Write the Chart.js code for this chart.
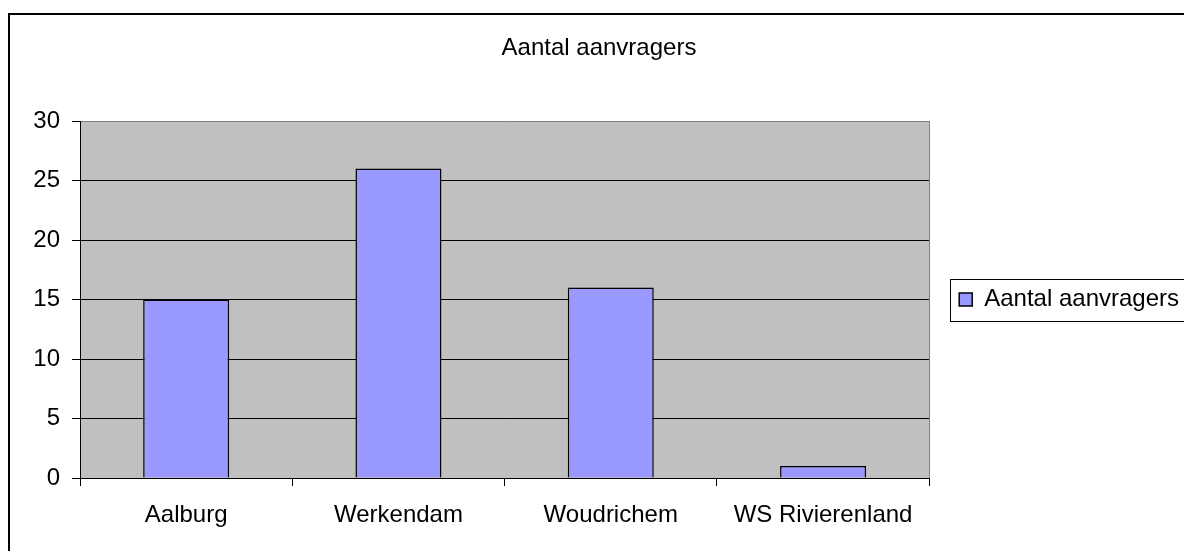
<!DOCTYPE html>
<html>
<head>
<meta charset="utf-8">
<title>Aantal aanvragers</title>
<script src="https://cdn.jsdelivr.net/npm/chart.js@4/dist/chart.umd.min.js"></script>
<style>
    html, body { margin: 0; padding: 0; background: #fff; }
    #wrap { width: 1184px; height: 551px; }
</style>
</head>
<body>
<div id="wrap"><canvas id="aanvragersChart" width="1184" height="551"></canvas></div>
<script>
// Chart data
const categories = ['Aalburg', 'Werkendam', 'Woudrichem', 'WS Rivierenland'];
const aanvragers = [15, 26, 16, 1];
const seriesLabel = 'Aantal aanvragers';
const chartTitle = 'Aantal aanvragers';
const yMin = 0;
const yMax = 30;
const yStep = 5;

Chart.defaults.font.family = '"Liberation Sans", Arial, sans-serif';
Chart.defaults.font.size = 24;
Chart.defaults.color = '#000';

/**
 * Draws the Excel-like chart frame, grey plot area and legend outline
 */
const excelFrame = {
    id: 'excelFrame',
    beforeDraw(chart) {
        const { ctx, chartArea: a } = chart;
        ctx.save();
        ctx.fillStyle = '#fff';
        ctx.fillRect(0, 0, chart.width, chart.height);
        // outer frame (runs off the right and bottom edge)
        ctx.fillStyle = '#000';
        ctx.fillRect(8, 13, 2, chart.height);
        ctx.fillRect(8, 13, chart.width, 2);
        // plot area
        ctx.fillStyle = '#c0c0c0';
        ctx.fillRect(a.left, a.top, a.right - a.left, a.bottom - a.top);
        ctx.restore();
    },
    beforeDatasetsDraw(chart) {
        const { ctx, chartArea: a } = chart;
        ctx.save();
        ctx.strokeStyle = '#808080';
        ctx.lineWidth = 1;
        ctx.beginPath();
        const x = Math.round(a.right) + 0.5;
        ctx.moveTo(x, a.top);
        ctx.lineTo(x, a.bottom);
        ctx.stroke();
        ctx.restore();
    },
    afterDraw(chart) {
        const hb = chart.legend && chart.legend.legendHitBoxes[0];
        if (!hb) return;
        const { ctx } = chart;
        ctx.save();
        ctx.strokeStyle = '#000';
        ctx.lineWidth = 1;
        ctx.strokeRect(Math.round(hb.left) - 8.5, Math.round(hb.top) - 8.5, 300, 42);
        ctx.restore();
    }
};

const ctx = document.getElementById('aanvragersChart').getContext('2d');
new Chart(ctx, {
    type: 'bar',
    data: {
        labels: categories,
        datasets: [{
            label: seriesLabel,
            data: aanvragers,
            backgroundColor: '#9999ff',
            borderColor: '#000',
            borderWidth: 1.5,
            barPercentage: 0.405,
            categoryPercentage: 1
        }]
    },
    options: {
        responsive: false,
        animation: false,
        layout: {
            padding: { left: 9, right: -5, top: 0, bottom: 0 }
        },
        plugins: {
            title: {
                display: true,
                text: chartTitle,
                color: '#000',
                font: { size: 24, weight: 'normal' },
                padding: { top: 33.6, bottom: 58.6 }
            },
            legend: {
                position: 'right',
                fullSize: false,
                align: 'center',
                labels: {
                    boxWidth: 13,
                    boxHeight: 13,
                    padding: 30,
                    color: '#000',
                    font: { size: 24 }
                }
            },
            tooltip: { enabled: false }
        },
        scales: {
            x: {
                afterFit: (scale) => { scale.height = 73; },
                grid: {
                    offset: true,
                    drawOnChartArea: false,
                    tickLength: 8,
                    color: '#000'
                },
                border: { color: '#000', width: 1 },
                ticks: {
                    padding: 15,
                    color: '#000',
                    maxRotation: 0,
                    autoSkip: false,
                    font: { size: 24 }
                }
            },
            y: {
                min: yMin,
                max: yMax,
                afterFit: (scale) => { scale.width = 71; },
                grid: {
                    tickLength: 8,
                    tickColor: '#000',
                    color: (c) => (c.tick && c.tick.value === yMax ? '#808080' : '#000')
                },
                border: { color: '#000', width: 1 },
                ticks: {
                    stepSize: yStep,
                    padding: 12,
                    color: '#000',
                    font: { size: 24 }
                }
            }
        }
    },
    plugins: [excelFrame]
});
</script>
</body>
</html>
